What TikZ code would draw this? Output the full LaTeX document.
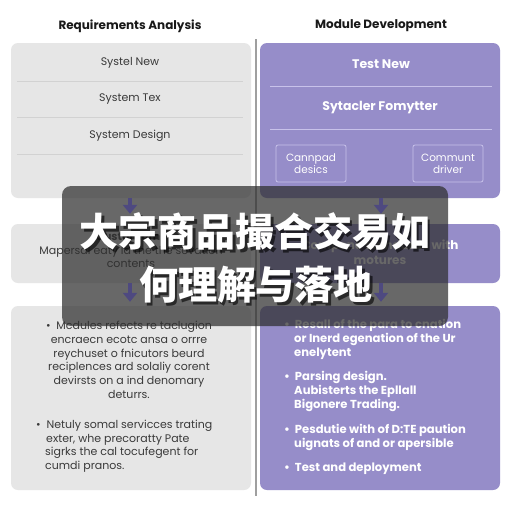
\documentclass[tikz,border=0pt]{standalone}
\usepackage{fontspec}
\setmainfont{Poppins}
\setsansfont{Poppins}
\newfontfamily\cjk{Noto Sans CJK SC}
\usetikzlibrary{arrows.meta}
\definecolor{boxgray}{HTML}{E6E6E6}
\definecolor{boxpurple}{HTML}{968DC9}
\definecolor{arrowcol}{HTML}{4E4980}
\definecolor{txtgray}{HTML}{3A3A3A}
\definecolor{sepgray}{HTML}{D2D2D2}
\definecolor{seppurple}{HTML}{C8C2EA}
\tikzset{
  graybox/.style={fill=boxgray, draw=none, rounded corners=7pt, inner sep=0pt},
  purplebox/.style={fill=boxpurple, draw=none, rounded corners=7pt, inner sep=0pt},
  heading/.style={font=\fontsize{12}{14}\selectfont\bfseries, text=black!90},
  grayrow/.style={font=\fontsize{11}{13}\selectfont, text=txtgray},
  whiterow/.style={font=\fontsize{12.5}{14}\selectfont\bfseries, text=white},
  smallbox/.style={draw=seppurple, line width=0.8pt, rounded corners=2pt, minimum width=70pt, minimum height=37pt, align=center, text=white, font=\fontsize{10.5}{12}\selectfont, inner sep=1pt},
  flowarrow/.style={draw=arrowcol, line width=3.4pt, -{Triangle[width=14pt,length=9pt]}},
  bodygray/.style={font=\fontsize{11}{13.7}\selectfont, text=txtgray, inner sep=0pt},
  bodywhite/.style={font=\fontsize{11.6}{13.8}\selectfont\bfseries, text=white, align=left, inner sep=0pt},
  overlay/.style={fill=black!82, fill opacity=0.72, rounded corners=9pt, draw=none},
  cjktext/.style={font=\cjk\bfseries\fontsize{39}{52}\selectfont, align=center, inner sep=0pt}
}
\begin{document}
\begin{tikzpicture}[x=1pt,y=-1pt]
\useasboundingbox (0,0) rectangle (512,512);
\fill[white] (0,0) rectangle (512,512);
% divider
\draw[gray!75, line width=1.4pt] (256,39) coordinate (d1) -- (256,496) coordinate (d2);
% headings
\node[heading] (h1) at (130,26) {Requirements Analysis};
\node[heading] (h2) at (381,26) {Module Development};
% top boxes
\node[graybox, minimum width=240pt, minimum height=155pt] (lt) at (131,120.5) {};
\node[purplebox, minimum width=240pt, minimum height=155pt] (rt) at (380,120.5) {};
% left top rows
\node[grayrow] (l1) at (130,63) {Systel New};
\node[grayrow] (l2) at (130,99) {System Tex};
\node[grayrow] (l3) at (130,136) {System Design};
\foreach \yy in {81,117,154} \draw[sepgray, line width=0.8pt] (17,\yy) -- (243,\yy);
% right top rows
\node[whiterow] (r1) at (381,64) {Test New};
\node[whiterow] (r2) at (380,108) {Sytacler Fomytter};
\foreach \yy in {86,129} \draw[seppurple, line width=0.8pt] (270,\yy) -- (492,\yy);
\node[smallbox] (s1) at (311,163.5) {Cannpad\\desics};
\node[smallbox] (s2) at (448,163.5) {Communt\\driver};
% middle boxes
\node[graybox, minimum width=240pt, minimum height=59pt] (lm) at (131,253.5) {};
\node[purplebox, minimum width=240pt, minimum height=59pt] (rm) at (380,253.5) {};
\node[font=\fontsize{11}{13}\selectfont\bfseries, text=txtgray] (lmt) at (128,237) {Custarnom};
\node[font=\fontsize{11}{13.5}\selectfont, text=txtgray, align=center, inner sep=0pt] (lmb) at (131,257) {Mapersal eaty ld the the sevation\\contents};
\node[font=\fontsize{12}{15}\selectfont\bfseries, text=white, align=center, inner sep=0pt] (rmb) at (380,252) {Compone standards with\\motures};
% bottom boxes
\node[graybox, minimum width=240pt, minimum height=184pt] (lb) at (131,398) {};
\node[purplebox, minimum width=240pt, minimum height=184pt] (rb) at (380,398) {};
% bottom left text
\node[bodygray, anchor=north, align=center] (lbt1) at (129,321) {\textbullet\ \ Mcdules refects re taclugion\\ encraecn ecotc ansa o orrre\\ reychuset o fnicutors beurd\\ reciplences ard solaliy corent\\ devirsts on a ind denomary\\ deturrs.};
\node[bodygray, anchor=north west, align=left] (lbt2) at (36,420) {\textbullet\ \ Netuly somal servicces trating\\ \hspace*{10pt}exter, whe precoratty Pate\\ \hspace*{9pt}sigrks the cal tocufegent for\\ \hspace*{9pt}cumdi pranos.};
% bottom right text
\node[bodywhite, anchor=north west] (rbt1) at (284,319.5) {\textbullet\ \ Resall of the para to cnation\\ \hspace*{10pt}or Inerd egenation of the Ur\\ \hspace*{10pt}enelytent};
\node[bodywhite, anchor=north west] (rbt2) at (284,371.5) {\textbullet\ \ Parsing design.\\ \hspace*{10pt}Aubisterts the Epllall\\ \hspace*{10pt}Bigonere Trading.};
\node[bodywhite, anchor=north west] (rbt3) at (284,424.5) {\textbullet\ \ Pesdutie with of D:TE paution\\ \hspace*{10pt}uignats of and or apersible};
\node[bodywhite, anchor=north west] (rbt4) at (284,462.5) {\textbullet\ \ Test and deployment};
% overlay
\path[overlay] (62,186) rectangle (448,326);
% arrows (seen through the overlay)
\draw[flowarrow, shorten >=10pt] ([xshift=-1pt]lt.south) -- ([xshift=-1pt]lm.north);
\draw[flowarrow, shorten >=10pt] ([xshift=1pt]rt.south) -- ([xshift=1pt]rm.north);
\draw[flowarrow, shorten >=4pt] ([xshift=-1pt]lm.south) -- ([xshift=-1pt]lb.north);
\draw[flowarrow, shorten >=4pt] ([xshift=1pt]rm.south) -- ([xshift=1pt]rb.north);
% title
\node[cjktext, text=black, opacity=0.6] (c1s) at (257.5,234.5) {大宗商品撮合交易如};
\node[cjktext, text=white] (c1) at (255,232) {大宗商品撮合交易如};
\node[cjktext, text=black, opacity=0.6] (c2s) at (258.5,287.5) {何理解与落地};
\node[cjktext, text=white] (c2) at (256,285) {何理解与落地};
\end{tikzpicture}
\end{document}
